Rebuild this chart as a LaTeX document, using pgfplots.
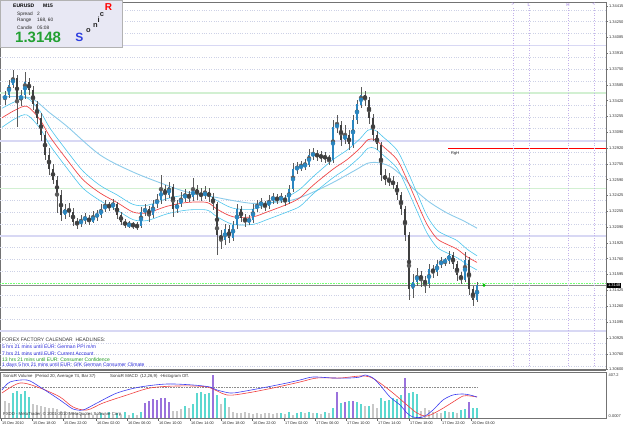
\documentclass[border=0pt]{standalone}
\usepackage{pgfplots}
\pgfplotsset{compat=1.18}
\usepackage{pgfplotstable}
\usepackage{fontspec}
\setmainfont{Liberation Sans}
\definecolor{wick}{HTML}{5A5A5A}
\definecolor{bull}{HTML}{2A86C0}
\definecolor{bear}{HTML}{404040}
\definecolor{lav}{HTML}{D8D8F4}
\definecolor{lgreen}{HTML}{D2F0D2}
\definecolor{gridc}{HTML}{CDD1E6}
\definecolor{emar}{HTML}{F04848}
\definecolor{emac}{HTML}{4CC4EC}
\definecolor{emab}{HTML}{8CCBEA}
\definecolor{boxfill}{HTML}{E8E8F4}
\definecolor{sonicblue}{HTML}{2E3FE0}
\definecolor{pricegreen}{HTML}{22A032}
\definecolor{newsblue}{HTML}{2828D8}
\definecolor{newsgreen}{HTML}{1E9A1E}
\definecolor{volgray}{HTML}{C8C8C8}
\definecolor{volcyan}{HTML}{5CD8D0}
\definecolor{volpurple}{HTML}{9A72DC}
\definecolor{macdblue}{HTML}{3C3CF0}
\definecolor{macdred}{HTML}{F04040}
\definecolor{vlpurple}{HTML}{B49CE6}
\newcommand{\fs}[1]{\fontsize{#1}{#1}\selectfont}
\pgfplotstableread{
i o h l c
0 1.3343 1.3352 1.3338 1.3348
1 1.3348 1.3364 1.3345 1.3359
2 1.3359 1.3374 1.3355 1.3366
3 1.3366 1.3369 1.3314 1.3343
4 1.3343 1.3353 1.3336 1.3348
5 1.3348 1.3372 1.3344 1.3362
6 1.3362 1.3366 1.3348 1.3353
7 1.3353 1.3357 1.3332 1.3338
8 1.3338 1.3342 1.3318 1.3324
9 1.3324 1.3329 1.3300 1.3306
10 1.3306 1.3310 1.3280 1.3285
11 1.3285 1.3292 1.3264 1.3270
12 1.3270 1.3275 1.3254 1.3259
13 1.3259 1.3263 1.3224 1.3243
14 1.3243 1.3248 1.3216 1.3222
15 1.3222 1.3233 1.3218 1.3228
16 1.3228 1.3234 1.3220 1.3225
17 1.3225 1.3229 1.3210 1.3215
18 1.3215 1.3219 1.3207 1.3212
19 1.3212 1.3222 1.3209 1.3217
20 1.3217 1.3224 1.3213 1.3219
21 1.3219 1.3222 1.3211 1.3215
22 1.3215 1.3226 1.3213 1.3221
23 1.3221 1.3227 1.3216 1.3222
24 1.3222 1.3233 1.3219 1.3228
25 1.3228 1.3238 1.3225 1.3232
26 1.3232 1.3236 1.3226 1.3231
27 1.3231 1.3239 1.3227 1.3233
28 1.3233 1.3236 1.3218 1.3222
29 1.3222 1.3225 1.3211 1.3215
30 1.3215 1.3218 1.3208 1.3211
31 1.3211 1.3216 1.3208 1.3212
32 1.3212 1.3215 1.3207 1.3211
33 1.3211 1.3214 1.3206 1.3210
34 1.3210 1.3230 1.3208 1.3225
35 1.3225 1.3233 1.3221 1.3228
36 1.3228 1.3231 1.3214 1.3222
37 1.3222 1.3238 1.3219 1.3233
38 1.3233 1.3244 1.3229 1.3238
39 1.3238 1.3264 1.3234 1.3249
40 1.3249 1.3253 1.3237 1.3243
41 1.3243 1.3257 1.3240 1.3251
42 1.3251 1.3254 1.3220 1.3228
43 1.3228 1.3238 1.3224 1.3233
44 1.3233 1.3246 1.3230 1.3240
45 1.3240 1.3249 1.3236 1.3243
46 1.3243 1.3247 1.3235 1.3241
47 1.3241 1.3261 1.3237 1.3249
48 1.3249 1.3253 1.3238 1.3244
49 1.3244 1.3250 1.3237 1.3242
50 1.3242 1.3252 1.3239 1.3246
51 1.3246 1.3250 1.3236 1.3241
52 1.3241 1.3245 1.3227 1.3233
53 1.3233 1.3236 1.3180 1.3201
54 1.3201 1.3206 1.3186 1.3196
55 1.3196 1.3212 1.3190 1.3207
56 1.3207 1.3211 1.3192 1.3198
57 1.3198 1.3216 1.3194 1.3211
58 1.3211 1.3233 1.3207 1.3228
59 1.3228 1.3231 1.3214 1.3219
60 1.3219 1.3223 1.3209 1.3215
61 1.3215 1.3222 1.3211 1.3217
62 1.3217 1.3233 1.3214 1.3228
63 1.3228 1.3238 1.3225 1.3233
64 1.3233 1.3240 1.3228 1.3234
65 1.3234 1.3237 1.3226 1.3231
66 1.3231 1.3243 1.3228 1.3238
67 1.3238 1.3245 1.3234 1.3240
68 1.3240 1.3244 1.3233 1.3238
69 1.3238 1.3245 1.3235 1.3240
70 1.3240 1.3243 1.3231 1.3236
71 1.3236 1.3254 1.3233 1.3249
72 1.3249 1.3276 1.3246 1.3270
73 1.3270 1.3278 1.3265 1.3272
74 1.3272 1.3279 1.3268 1.3273
75 1.3273 1.3281 1.3269 1.3275
76 1.3275 1.3291 1.3272 1.3285
77 1.3285 1.3292 1.3280 1.3286
78 1.3286 1.3290 1.3279 1.3284
79 1.3284 1.3289 1.3278 1.3283
80 1.3283 1.3288 1.3277 1.3282
81 1.3282 1.3285 1.3274 1.3280
82 1.3280 1.3322 1.3276 1.3314
83 1.3314 1.3327 1.3308 1.3317
84 1.3317 1.3321 1.3294 1.3301
85 1.3301 1.3316 1.3296 1.3306
86 1.3306 1.3311 1.3290 1.3296
87 1.3296 1.3327 1.3292 1.3322
88 1.3322 1.3343 1.3318 1.3338
89 1.3338 1.3356 1.3334 1.3348
90 1.3348 1.3352 1.3337 1.3343
91 1.3343 1.3346 1.3318 1.3324
92 1.3324 1.3328 1.3300 1.3306
93 1.3306 1.3310 1.3290 1.3296
94 1.3296 1.3299 1.3258 1.3264
95 1.3264 1.3270 1.3253 1.3259
96 1.3259 1.3266 1.3252 1.3257
97 1.3257 1.3263 1.3249 1.3254
98 1.3254 1.3257 1.3238 1.3243
99 1.3243 1.3246 1.3222 1.3228
100 1.3228 1.3231 1.3195 1.3201
101 1.3201 1.3204 1.3133 1.3144
102 1.3144 1.3160 1.3135 1.3152
103 1.3152 1.3166 1.3147 1.3159
104 1.3159 1.3163 1.3146 1.3154
105 1.3154 1.3158 1.3140 1.3149
106 1.3149 1.3170 1.3145 1.3165
107 1.3165 1.3169 1.3156 1.3162
108 1.3162 1.3175 1.3158 1.3170
109 1.3170 1.3178 1.3166 1.3173
110 1.3173 1.3177 1.3168 1.3174
111 1.3174 1.3184 1.3170 1.3180
112 1.3180 1.3183 1.3165 1.3170
113 1.3170 1.3173 1.3153 1.3159
114 1.3159 1.3162 1.3149 1.3154
115 1.3154 1.3183 1.3151 1.3175
116 1.3175 1.3178 1.3138 1.3144
117 1.3144 1.3147 1.3126 1.3133
118 1.3133 1.3152 1.3130 1.3148
}\ohlc
\begin{document}
\begin{tikzpicture}[x=1pt,y=1pt]
\path[use as bounding box] (0pt,0pt) rectangle (625pt,429pt);
% ---------------- main price panel
\begin{axis}[
  at={(0pt,427pt)}, anchor=north west, scale only axis,
  width=606pt, height=367pt,
  xmin=-1.25, xmax=150.25, ymin=1.30600, ymax=1.34457,
  axis line style={draw=black!55, line width=0.6pt},
  xtick=\empty,
  ytick={1.34415,1.34250,1.34085,1.33915,1.33750,1.33585,1.33420,1.33255,1.33090,1.32920,1.32755,1.32590,1.32425,1.32255,1.32090,1.31925,1.31760,1.31595,1.31425,1.31260,1.31095,1.30925,1.30760,1.30600},
  yticklabels={1.34415,1.34250,1.34085,1.33915,1.33750,1.33585,1.33420,1.33255,1.33090,1.32920,1.32755,1.32590,1.32425,1.32255,1.32090,1.31925,1.31760,1.31595,1.31425,1.31260,1.31095,1.30925,1.30760,1.30600},
  ytick pos=right, yticklabel pos=right,
  tick align=outside, major tick length=2pt,
  tick style={draw=black!55, line width=0.4pt},
  yticklabel style={font=\fs{4}, text=black!80, inner sep=0.5pt, xshift=0.3pt},
  extra y ticks={1.30625,1.3075,1.30875,1.31125,1.3125,1.31375,1.31625,1.3175,1.31875,1.32125,1.3225,1.32375,1.32625,1.3275,1.32875,1.33125,1.3325,1.33375,1.33625,1.3375,1.33875,1.34125,1.3425,1.34375},
  extra y tick labels={},
  extra y tick style={grid=major, major tick length=0pt, major grid style={draw=gridc, dotted, line width=0.5pt}},
  scaled y ticks=false,
  clip=true,
]
% round-number levels
\draw[lav, line width=1.8pt] (axis cs:-1.25,1.34) -- (axis cs:150.25,1.34);
\draw[lav, line width=1.8pt] (axis cs:-1.25,1.33) -- (axis cs:150.25,1.33);
\draw[lav, line width=1.8pt] (axis cs:-1.25,1.32) -- (axis cs:150.25,1.32);
\draw[lav, line width=1.8pt] (axis cs:-1.25,1.31) -- (axis cs:150.25,1.31);
\draw[lgreen, line width=1.3pt] (axis cs:-1.25,1.335) -- (axis cs:150.25,1.335);
\draw[lgreen, line width=1.3pt] (axis cs:-1.25,1.325) -- (axis cs:150.25,1.325);
\draw[green!55!white, densely dotted, line width=0.6pt] (axis cs:-1.25,1.3150) -- (axis cs:150.25,1.3150);
\draw[black!45, line width=0.7pt] (axis cs:-1.25,1.3148) -- (axis cs:150.25,1.3148);
\draw[red, line width=1pt] (axis cs:110.75,1.3292) -- (axis cs:150.25,1.3292);
% moving averages
\addplot[emab, line width=0.9pt, smooth, tension=0.5] coordinates {(-0.75,1.3346) (6.25,1.3345) (11.25,1.3329) (15.5,1.3315) (23.75,1.3285) (32,1.3267) (40.5,1.3253) (45.5,1.3246) (52,1.3241) (57,1.3237) (62,1.3234) (67,1.3235) (71.25,1.3237) (75.5,1.3243) (82,1.3256) (88,1.3270) (90.5,1.3276) (93,1.3277) (96.25,1.3273) (99.5,1.3262) (102,1.3250) (106.25,1.3235) (110.5,1.3224) (114.5,1.3216) (118,1.3208)};
\addplot[emac, line width=0.6pt, smooth, tension=0.5] coordinates {(-0.75,1.3334) (2.5,1.3341) (5.5,1.3345) (8.75,1.3331) (11.25,1.3313) (15.5,1.3289) (19.5,1.3268) (23.75,1.3253) (28,1.3243) (32,1.3233) (35.5,1.3232) (40.5,1.3239) (45.5,1.3243) (50.5,1.3243) (53,1.3237) (57,1.3229) (62,1.3228) (65.5,1.3233) (70.5,1.3241) (73.75,1.3249) (77,1.3262) (82,1.3280) (85.5,1.3290) (88.75,1.3302) (90.75,1.3311) (92.5,1.3311) (94.5,1.3304) (98,1.3290) (100.5,1.3269) (103,1.3245) (105.5,1.3221) (108,1.3206) (110.5,1.3200) (113,1.3195) (115.5,1.3186) (118,1.3179)};
\addplot[emac, line width=0.6pt, smooth, tension=0.5] coordinates {(-0.75,1.3314) (2.5,1.3323) (5.5,1.3327) (8.75,1.3313) (11.25,1.3295) (15.5,1.3271) (19.5,1.3250) (23.75,1.3237) (28,1.3227) (32,1.3217) (35.5,1.3216) (40.5,1.3223) (45.5,1.3227) (50.5,1.3227) (53,1.3220) (57,1.3212) (62,1.3212) (65.5,1.3217) (70.5,1.3225) (73.75,1.3231) (77,1.3244) (82,1.3261) (85.5,1.3271) (88.75,1.3283) (90.75,1.3292) (92.5,1.3292) (94.5,1.3285) (98,1.3271) (100.5,1.3250) (103,1.3226) (105.5,1.3203) (108,1.3188) (110.5,1.3182) (113,1.3177) (115.5,1.3170) (118,1.3164)};
\addplot[emar, line width=0.7pt, smooth, tension=0.5] coordinates {(-0.75,1.3324) (2.5,1.3332) (5.5,1.3336) (8.75,1.3322) (11.25,1.3304) (15.5,1.3280) (19.5,1.3259) (23.75,1.3245) (28,1.3235) (32,1.3225) (35.5,1.3224) (40.5,1.3231) (45.5,1.3235) (50.5,1.3235) (53,1.3228) (57,1.3220) (62,1.3220) (65.5,1.3225) (70.5,1.3233) (73.75,1.3240) (77,1.3253) (82,1.3270) (85.5,1.3280) (88.75,1.3292) (90.75,1.3301) (92.5,1.3301) (94.5,1.3294) (98,1.3280) (100.5,1.3259) (103,1.3235) (105.5,1.3212) (108,1.3197) (110.5,1.3191) (113,1.3186) (115.5,1.3178) (118,1.3172)};
% candles: wicks
\addplot[only marks, mark=none, forget plot, color=wick,
  error bars/.cd, y dir=both, y explicit, error mark=none,
  error bar style={draw=wick, line width=0.8pt}]
  table[x=i, y expr={(\thisrow{h}+\thisrow{l})/2}, y error expr={(\thisrow{h}-\thisrow{l})/2}]{\ohlc};
% bull bodies
\addplot[only marks, mark=none, forget plot, color=bull,
  restrict expr to domain={\thisrow{c}-\thisrow{o}}{0.00001:1},
  error bars/.cd, y dir=both, y explicit, error mark=none,
  error bar style={draw=bull, line width=2.4pt}]
  table[x=i, y expr={(\thisrow{o}+\thisrow{c})/2}, y error expr={abs(\thisrow{c}-\thisrow{o})/2}]{\ohlc};
% bear bodies
\addplot[only marks, mark=none, forget plot, color=bear,
  restrict expr to domain={\thisrow{o}-\thisrow{c}}{0.00001:1},
  error bars/.cd, y dir=both, y explicit, error mark=none,
  error bar style={draw=bear, line width=2.4pt}]
  table[x=i, y expr={(\thisrow{o}+\thisrow{c})/2}, y error expr={abs(\thisrow{c}-\thisrow{o})/2}]{\ohlc};
% current bid dot
\addplot[only marks, mark=*, mark size=1.3pt, draw=green!70!black, fill=green!80!black] coordinates {(119.75,1.3148)};
\end{axis}
% ---------------- indicator panel (volume)
\begin{axis}[
  at={(0pt,57pt)}, anchor=north west, scale only axis,
  width=606pt, height=46pt,
  xmin=-1.25, xmax=150.25, ymin=0, ymax=407.2,
  axis line style={draw=black!55, line width=0.6pt},
  ytick=\empty,
  xtick={-1,6.75,14.5,22.75,30.5,38.25,46.25,54,61.75,69.75,77.5,85.25,93,101,109,116.5},
  xticklabels={15 Dec 2010,15 Dec 18:00,15 Dec 22:00,16 Dec 02:00,16 Dec 06:00,16 Dec 10:00,16 Dec 14:00,16 Dec 18:00,16 Dec 22:00,17 Dec 02:00,17 Dec 06:00,17 Dec 10:00,17 Dec 14:00,17 Dec 18:00,17 Dec 22:00,20 Dec 03:00},
  xtick pos=left, tick align=outside, major tick length=3pt,
  tick style={draw=black!60, line width=0.4pt},
  xticklabel style={font=\fs{3.8}, text=black!85, anchor=north west, inner sep=0.5pt, xshift=0.5pt},
  clip=true,
]
\addplot[ycomb, volgray, line width=2pt] coordinates {(0,150) (1,130) (7,120) (8,115) (9,110) (10,95) (11,90) (12,85) (13,80) (14,65) (15,60) (16,55) (17,50) (18,45) (19,40) (20,35) (21,40) (22,30) (23,35) (25,30) (27,25) (29,30) (31,25) (33,30) (42,60) (43,65) (44,80) (46,90) (54,120) (56,100) (57,55) (58,45) (59,40) (60,50) (61,45) (62,35) (63,40) (64,35) (65,45) (66,40) (67,35) (68,40) (70,35) (72,30) (75,45) (77,40) (79,35) (81,40) (90,110) (92,120) (93,90) (104,60) (105,85) (106,70) (107,55) (108,45) (109,40) (111,50) (113,45)};
\addplot[ycomb, volcyan, line width=2pt] coordinates {(2,220) (3,235) (4,210) (5,240) (6,190) (24,45) (26,50) (28,40) (30,55) (32,45) (34,50) (45,110) (47,125) (48,220) (49,230) (50,210) (51,225) (53,200) (55,180) (69,45) (71,50) (73,40) (74,50) (76,55) (78,45) (80,50) (82,90) (84,130) (86,150) (88,140) (89,120) (91,105) (94,175) (95,150) (96,160) (97,180) (98,170) (99,200) (101,220) (102,230) (103,210) (110,60) (112,55) (114,70) (115,80) (117,85) (118,85)};
\addplot[ycomb, volpurple, line width=2pt] coordinates {(35,130) (36,150) (37,165) (38,160) (39,175) (40,180) (41,140) (52,380) (83,230) (85,145) (87,150) (100,355) (116,140)};
\end{axis}
% ---------------- indicator panel (MACD overlay)
\begin{axis}[
  at={(0pt,57pt)}, anchor=north west, scale only axis,
  width=606pt, height=46pt,
  xmin=-1.25, xmax=150.25, ymin=-0.0031, ymax=0.0015,
  hide axis, clip=true,
]
\addplot[black!45, densely dotted, line width=0.6pt] coordinates {(-1.25,0) (118,0)};
\addplot[macdred, line width=0.6pt, smooth, tension=0.5] coordinates {(-0.75,-0.0006) (3.75,0.0004) (8.75,-0.0001) (13.75,-0.0010) (17,-0.0020) (20.5,-0.0023) (24.5,-0.0016) (30.5,-0.0008) (36.25,-0.0001) (43,0.0001) (50.5,0.0000) (55.5,-0.0008) (60.5,-0.0006) (67,-0.0001) (73.75,0.0005) (78,0.0009) (83.75,0.0009) (88.75,0.0011) (91.25,0.0010) (93.75,0.0004) (97,-0.0006) (100.5,-0.0018) (103,-0.0026) (105.5,-0.0029) (108.75,-0.0023) (112,-0.0015) (114.5,-0.0009) (116.25,-0.0009) (118,-0.0010)};
\addplot[macdblue, line width=0.6pt, smooth, tension=0.5] coordinates {(-0.75,-0.0003) (1.25,0.0005) (5.5,0.0007) (8.75,0.0000) (13,-0.0011) (15.5,-0.0018) (17,-0.0022) (19.5,-0.0023) (23,-0.0016) (28,-0.0006) (33.75,0.0000) (40.5,0.0003) (47,0.0002) (51.25,0.0000) (53,-0.0003) (56.25,-0.0006) (58.75,-0.0005) (65.5,0.0000) (70.5,0.0004) (73.75,0.0007) (77,0.0010) (82,0.0009) (86.25,0.0009) (88.75,0.0010) (90,0.0012) (92,0.0009) (93.75,0.0002) (96.25,-0.0010) (98.75,-0.0018) (100.5,-0.0026) (102,-0.0030) (104.5,-0.0030) (107,-0.0023) (109.5,-0.0013) (112,-0.0008) (114.5,-0.0007) (116.25,-0.0008) (118,-0.0010)};
\end{axis}
% ---------------- separator and decorations
\draw[black!55, line width=2pt] (0pt,58.5pt) -- (606pt,58.5pt);
\foreach \xx in {513,529,568,594} {\draw[vlpurple!80, dotted, line width=0.5pt] (\xx pt,421pt) -- (\xx pt,61pt);}
\node[text=vlpurple, font=\bfseries\fs{4.5}, inner sep=0] at (513pt,424.5pt) {>};
\node[text=vlpurple, font=\bfseries\fs{4.5}, inner sep=0] at (529pt,424.5pt) {L};
\node[text=vlpurple, font=\bfseries\fs{4.5}, inner sep=0] at (568pt,424.5pt) {H};
\node[text=vlpurple, font=\bfseries\fs{4.5}, inner sep=0] at (594pt,424.5pt) {<};
\node[anchor=base west, inner sep=0, font=\fs{4}, text=black!85] at (451pt,274pt) {RgH};
\node[anchor=west, fill=black, text=white, font=\fs{4}, inner sep=0.8pt] at (607pt,143.7pt) {1.3148};
% info box
\draw[draw=black!30, fill=boxfill, line width=0.5pt] (0.5pt,381.5pt) rectangle (122pt,428.5pt);
\node[anchor=base west, inner sep=0, font=\bfseries\fs{5}] at (13pt,421.7pt) {EURUSD};
\node[anchor=base west, inner sep=0, font=\bfseries\fs{5}] at (43pt,421.7pt) {M15};
\node[anchor=base west, inner sep=0, font=\fs{4.8}, text=black!85] at (17pt,413pt) {Spread};
\node[anchor=base west, inner sep=0, font=\fs{4.8}, text=black!85] at (37pt,413pt) {2};
\node[anchor=base west, inner sep=0, font=\fs{4.8}, text=black!85] at (17pt,407.7pt) {Range};
\node[anchor=base west, inner sep=0, font=\fs{4.8}, text=black!85] at (37pt,407.7pt) {168, 60};
\node[anchor=base west, inner sep=0, font=\fs{4.8}, text=black!85] at (17pt,399.7pt) {Candle};
\node[anchor=base west, inner sep=0, font=\fs{4.8}, text=black!85] at (37pt,399.7pt) {05:08};
\node[anchor=base west, inner sep=0, font=\bfseries\fs{15}, text=pricegreen] at (15pt,386pt) {1.3148};
\node[inner sep=0, font=\bfseries\fs{12}, text=sonicblue] at (79.5pt,391.5pt) {S};
\node[inner sep=0, font=\bfseries\fs{7.5}, text=black!85] at (88.5pt,398pt) {o};
\node[inner sep=0, font=\bfseries\fs{7.5}, text=black!85] at (95.5pt,403.7pt) {n};
\node[inner sep=0, font=\bfseries\fs{7.5}, text=black!85] at (98.7pt,409pt) {i};
\node[inner sep=0, font=\bfseries\fs{7.5}, text=black!85] at (102pt,414.3pt) {c};
\node[inner sep=0, font=\bfseries\fs{10}, text=red] at (108.5pt,422pt) {R};
% calendar headlines
\node[anchor=base west, inner sep=0, font=\fs{5}, text=black!80] at (2pt,87pt) {FOREX FACTORY CALENDAR\ \ HEADLINES:};
\node[anchor=base west, inner sep=0, font=\fs{5}, text=newsblue] at (2pt,80pt) {5 hrs 21 mins until EUR: German PPI m/m};
\node[anchor=base west, inner sep=0, font=\fs{5}, text=newsblue] at (2pt,73pt) {7 hrs 21 mins until EUR: Current Account};
\node[anchor=base west, inner sep=0, font=\fs{5}, text=newsgreen] at (2pt,67pt) {13 hrs 21 mins until EUR: Consumer Confidence};
\node[anchor=base west, inner sep=0, font=\fs{5}, text=newsblue] at (2pt,62pt) {1 days 5 hrs 21 mins until EUR: GfK German Consumer Climate};
% indicator texts
\node[anchor=base west, inner sep=0, font=\fs{4.3}, text=black!80] at (3pt,51pt) {SonicR Volume\ \ (Period 20, Average 74, Bar 37)};
\node[anchor=base west, inner sep=0, font=\fs{4.3}, text=black!80] at (110pt,51pt) {SonicR MACD\ \ (12,26,9)\ \ -Histogram Off.};
\node[anchor=base west, inner sep=0, font=\fs{4.3}, text=black!80] at (3pt,13pt) {FXDD - MetaTrader, © 2001-2010 MetaQuotes Software Corp.};
\node[anchor=west, inner sep=0.5pt, font=\fs{4}, text=black!80] at (608pt,54pt) {407.2};
\node[anchor=west, inner sep=0.5pt, font=\fs{4}, text=black!80] at (608pt,12.5pt) {0.0007};
\end{tikzpicture}
\end{document}
